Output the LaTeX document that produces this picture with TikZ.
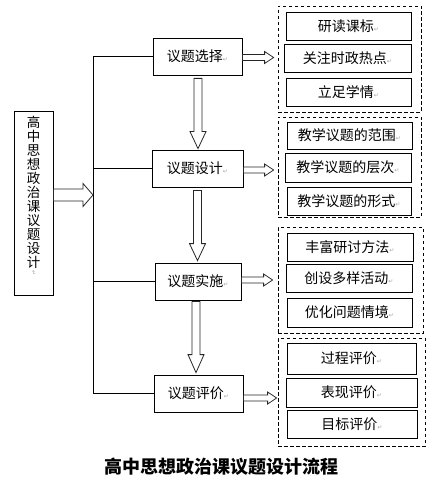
\documentclass[tikz,border=0pt]{standalone}
\usepackage{fontspec}
\usetikzlibrary{calc}
\newfontfamily\cjk{Noto Sans CJK SC}
\newfontfamily\dv{DejaVu Sans}
\newcommand\retmark{{\dv\fontsize{6}{6}\selectfont\color{gray!70}↵}}
\newcommand\harrow[5]{%
  \draw[hollow] let \p1=(#1), \p2=(#2) in
    (\x1,\y1+#3pt) -- (\x2-#5pt,\y1+#3pt) -- (\x2-#5pt,\y1+#4pt) -- (\x2,\y1)
    -- (\x2-#5pt,\y1-#4pt) -- (\x2-#5pt,\y1-#3pt) -- (\x1,\y1-#3pt) -- cycle;}
\newcommand\varrow[5]{%
  \draw[hollow] let \p1=(#1), \p2=(#2) in
    (\x1-#3pt,\y1) -- (\x1-#3pt,\y2+#5pt) -- (\x1-#4pt,\y2+#5pt) -- (\x1,\y2)
    -- (\x1+#4pt,\y2+#5pt) -- (\x1+#3pt,\y2+#5pt) -- (\x1+#3pt,\y1) -- cycle;}
\begin{document}
\begin{tikzpicture}[x=1pt,y=-1pt,
  box/.style={draw, line width=0.8pt, inner sep=0pt, align=center,
    font=\cjk\fontsize{14}{14}\selectfont},
  sub/.style={box},
  grp/.style={draw, line width=0.8pt, dash pattern=on 3.5pt off 2.5pt, inner sep=0pt},
  hollow/.style={draw=black!85, line width=0.8pt, fill=white, line join=miter},
  link/.style={draw, line width=0.8pt}]
\useasboundingbox (0,0) rectangle (431,481);

% left box
\node[box, minimum width=39pt, minimum height=184pt] (L) at (33.5,203) {};
\node[font=\cjk\fontsize{13.5}{14}\selectfont, align=center, inner sep=0pt] (Lt) at (33.5,192)
  {高\\中\\思\\想\\政\\治\\课\\议\\题\\设\\计};
\node[rotate=-90, inner sep=0pt] (Lm) at (33.5,273) {\retmark};

% main steps
\node[box, minimum width=89pt, minimum height=37pt] (b1) at (197.5,56.5) {议题选择\retmark};
\node[box, minimum width=91pt, minimum height=37pt] (b2) at (197.5,168.5) {议题设计\retmark};
\node[box, minimum width=86pt, minimum height=37pt] (b3) at (198,281.5) {议题实施\retmark};
\node[box, minimum width=89pt, minimum height=37pt] (b4) at (198.5,393.5) {议题评价\retmark};

% trunk
\coordinate (trunk) at (93,0);
\draw[link] (b1.west) -- (b1.west -| trunk) -- (b4.west -| trunk) -- (b4.west);
\draw[link] (b2.west) -- (b2.west -| trunk);
\draw[link] (b3.west) -- (b3.west -| trunk);

% dashed groups
\node[grp, minimum width=143pt, minimum height=106pt] (g1) at (349.5,59) {};
\node[grp, minimum width=143pt, minimum height=100pt] (g2) at (349.5,167) {};
\node[grp, minimum width=145pt, minimum height=106pt] (g3) at (350.5,280) {};
\node[grp, minimum width=147pt, minimum height=108pt] (g4) at (351.5,392) {};

% sub boxes
\node[sub, minimum width=125pt, minimum height=28pt] (g1a) at (348.5,26) {研读课标\retmark};
\node[sub, minimum width=127pt, minimum height=28pt] (g1b) at (347.5,58) {关注时政热点\retmark};
\node[sub, minimum width=125pt, minimum height=28pt] (g1c) at (348.5,92) {立足学情\retmark};

\node[sub, minimum width=125pt, minimum height=27pt] (g2a) at (349.5,135.5) {教学议题的范围\retmark};
\node[sub, minimum width=126pt, minimum height=29pt] (g2b) at (348,167.5) {教学议题的层次\retmark};
\node[sub, minimum width=124pt, minimum height=28pt] (g2c) at (349,201) {教学议题的形式\retmark};

\node[sub, minimum width=126pt, minimum height=28pt] (g3a) at (350,247) {丰富研讨方法\retmark};
\node[sub, minimum width=126pt, minimum height=28pt] (g3b) at (349,278) {创设多样活动\retmark};
\node[sub, minimum width=125pt, minimum height=29pt] (g3c) at (349.5,312.5) {优化问题情境\retmark};

\node[sub, minimum width=129pt, minimum height=31pt] (g4a) at (351.5,358.5) {过程评价\retmark};
\node[sub, minimum width=131pt, minimum height=29pt] (g4b) at (351.5,392.5) {表现评价\retmark};
\node[sub, minimum width=130pt, minimum height=28pt] (g4c) at (352,424) {目标评价\retmark};

% hollow arrows
\harrow{$(L.east)+(0,-8)$}{trunk}{6}{11.5}{10}
\harrow{$(b1.east)+(0,1)$}{$(g1.west)+(-4,0)$}{3}{6}{9}
\harrow{$(b2.east)+(0,1.5)$}{$(g2.west)+(-4,0)$}{3}{6}{9}
\harrow{$(b3.east)+(0,-1.5)$}{$(g3.west)+(-5,0)$}{3}{6}{9}
\harrow{$(b4.east)+(0,4.5)$}{$(g4.west)+(-1,0)$}{3}{6}{9}
\varrow{$(b1.south)+(0.5,3)$}{$(b2.north)+(0,-1)$}{4}{8}{17}
\varrow{$(b2.south)+(0,3)$}{$(b3.north)+(0,-2)$}{4}{8}{17}
\varrow{$(b3.south)+(-2,1)$}{$(b4.north)+(0,-2)$}{4}{8}{18}

% title
\node[font=\cjk\bfseries\fontsize{18}{18}\selectfont, inner sep=0pt] (title) at (221,467) {高中思想政治课议题设计流程};
\end{tikzpicture}
\end{document}
